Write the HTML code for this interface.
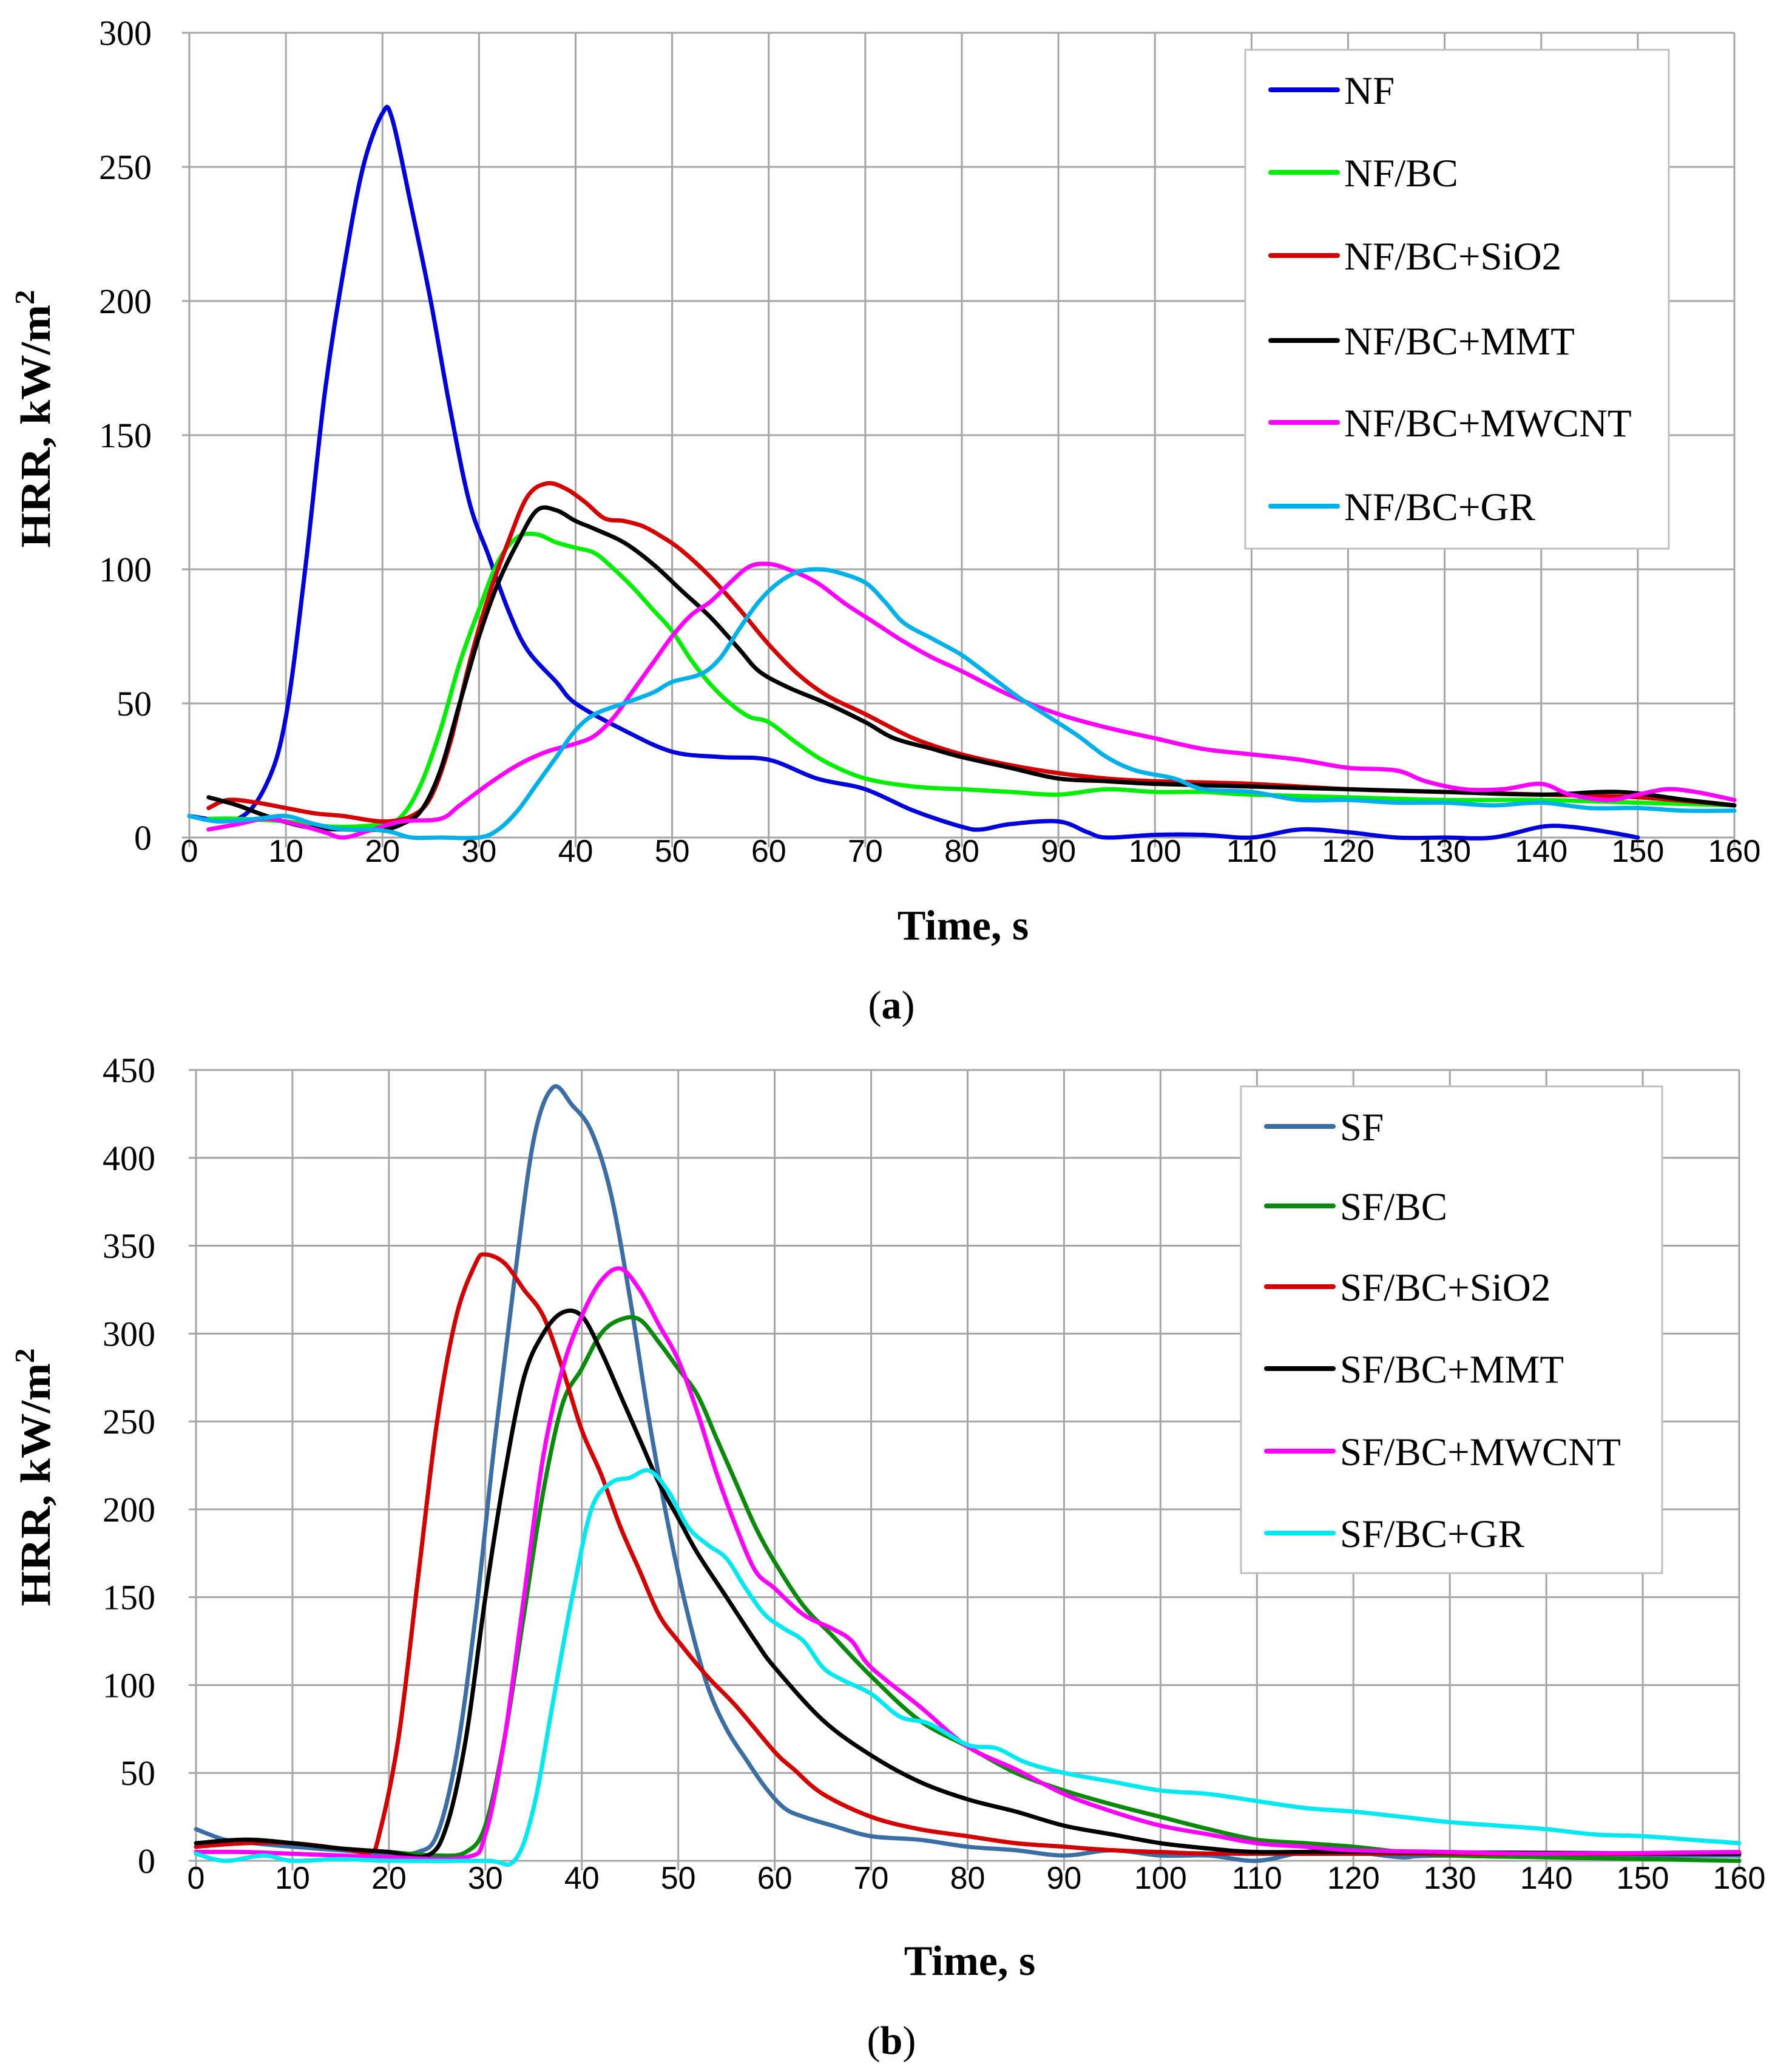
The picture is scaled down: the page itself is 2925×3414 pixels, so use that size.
<!DOCTYPE html>
<html><head><meta charset="utf-8"><style>
html,body{margin:0;padding:0;background:#fff}
svg{display:block}
</style></head><body>
<svg id="fig" xmlns="http://www.w3.org/2000/svg" width="2925" height="3414" viewBox="0 0 2925 3414">
<rect width="2925" height="3414" fill="#fff"/>
</svg>
<script>
// ---------- Chart (a) data ----------
const aNames = ["NF","NF/BC","NF/BC+SiO2","NF/BC+MMT","NF/BC+MWCNT","NF/BC+GR"];
const aColors = ["#0000dd","#00ee00","#d40000","#000000","#ff00ff","#00b0e8"];
const aNF_t = [0,5,8,10,12,14,16,18,20,21,23,25,27,29,31,33,35,38,40,45,50,55,60,65,70,75,80,82,85,90,93,95,100,105,110,115,120,125,130,135,140,143,147,150];
const aNF_v = [8,7,20,45,100,165,212,250,270,268,235,200,160,125,105,85,70,58,50,40,32,30,29,22,18,10,4,3,5,6,2,0,1,1,0,3,2,0,0,0,4,4,2,0];
const aBC_t = [2,5,10,15,20,22,24,26,28,30,32,34,36,38,40,42,44,46,48,50,52,54,56,58,60,63,66,70,75,80,85,90,95,100,105,110,120,130,140,150,160];
const aBC_v = [7,7,6,4,5,8,20,40,65,85,103,112,113,110,108,106,100,93,85,77,66,57,50,45,43,35,28,22,19,18,17,16,18,17,17,16,15,14,14,13,12];
const aSi_t = [2,4,7,10,13,16,20,23,25,27,29,31,33,35,37,39,41,43,45,47,49,51,54,57,60,63,66,70,75,80,85,90,95,100,110,120,130,140,150,160];
const aSi_v = [11,14,13,11,9,8,6,8,15,35,65,90,110,127,132,130,125,119,118,116,112,107,97,85,72,61,53,46,37,31,27,24,22,21,20,18,17,16,15,12];
const aMM_t = [2,5,8,12,16,20,22,24,26,28,30,32,34,36,38,40,42,45,48,51,54,57,59,62,66,70,73,77,80,85,90,95,100,110,120,130,140,148,155,160];
const aMM_v = [15,12,8,4,3,3,5,10,25,50,75,95,110,122,122,118,115,110,102,92,82,70,62,56,50,43,37,33,30,26,22,21,20,19,18,17,16,17,14,12];
const aMW_t = [2,5,8,11,14,16,19,22,26,28,31,34,37,40,42,44,46,48,50,52,54,56,58,60,62,65,68,71,74,77,80,85,90,95,100,105,110,115,120,125,128,132,136,140,143,147,150,153,156,160];
const aMW_v = [3,5,7,5,2,0,3,6,7,12,20,27,32,35,38,45,55,65,75,83,88,95,101,102,100,95,87,80,73,67,62,53,46,41,37,33,31,29,26,25,21,18,18,20,16,14,16,18,17,14];
const aGR_t = [0,3,7,10,13,16,19,21,23,26,30,32,34,36,38,40,42,45,48,50,53,55,57,59,61,63,65,67,70,72,74,77,80,83,86,89,92,95,98,102,105,110,115,120,125,130,135,140,145,150,155,160];
const aGR_v = [8,6,7,8,5,3,3,2,0,0,0,3,10,20,30,40,46,50,54,58,61,67,78,88,95,99,100,99,95,88,80,74,68,60,52,45,38,30,25,22,18,17,14,14,13,13,12,13,11,11,10,10];
const aYTicks = [0,50,100,150,200,250,300];
const aXTicks = [0,10,20,30,40,50,60,70,80,90,100,110,120,130,140,150,160];

// ---------- Chart (b) data ----------
const bNames = ["SF","SF/BC","SF/BC+SiO2","SF/BC+MMT","SF/BC+MWCNT","SF/BC+GR"];
const bColors = ["#3b6ea5","#0a8a0a","#d40000","#000000","#ff00ff","#00e8f0"];
const bSF_t = [0,3,6,10,15,20,23,25,27,29,31,33,35,37,39,41,43,45,47,49,51,53,55,57,59,61,63,66,70,75,80,85,90,95,100,105,110,115,120,125,130,160];
const bSF_v = [18,12,10,8,6,4,5,15,60,140,240,330,410,440,430,415,380,320,250,190,140,100,75,58,42,30,25,20,14,12,8,6,3,6,3,3,0,5,5,2,3,3];
const bBC_t = [0,5,10,15,20,25,28,30,32,34,36,38,40,42,44,46,48,50,52,54,56,58,60,63,66,70,75,80,85,90,95,100,105,110,115,120,125,130,140,150,160];
const bBC_v = [8,12,10,7,5,3,5,20,70,140,210,260,280,300,308,308,295,280,265,240,215,190,170,145,128,105,80,65,50,40,32,25,18,12,10,8,5,3,2,1,0];
const bSi_t = [0,5,10,15,18,19,21,23,25,27,29,30,32,34,36,38,40,42,44,46,48,50,53,56,60,62,65,70,75,80,85,90,95,100,110,160];
const bSi_v = [8,10,10,7,5,15,70,160,250,310,340,345,340,325,310,280,245,220,190,165,140,125,105,88,62,52,38,25,18,14,10,8,6,5,4,4];
const bMM_t = [0,5,10,15,20,24,26,28,30,32,34,36,38,40,42,44,46,48,50,52,55,58,60,65,70,75,80,85,90,95,100,105,110,120,160];
const bMM_v = [10,12,10,7,5,3,20,70,150,220,275,300,312,310,290,265,240,215,195,175,150,125,110,80,60,45,35,28,20,15,10,7,5,5,4];
const bMW_t = [0,5,10,15,20,28,30,32,34,36,38,40,42,44,46,48,50,52,54,56,58,60,63,66,68,70,75,80,85,90,95,100,105,110,115,120,130,140,160];
const bMW_v = [5,5,4,3,2,2,15,70,150,230,280,310,330,337,325,305,285,255,220,190,165,155,140,132,125,110,88,65,52,38,28,20,15,10,8,6,5,4,5];
const bGR_t = [0,3,7,10,15,20,30,33,35,37,39,41,43,45,47,49,51,53,55,57,59,61,63,65,67,70,73,76,80,83,86,90,95,100,105,110,115,120,125,130,135,140,145,150,155,160];
const bGR_v = [4,0,3,0,1,0,0,0,30,90,150,200,215,218,222,210,190,180,172,155,140,132,125,110,103,95,82,78,66,64,56,50,45,40,38,34,30,28,25,22,20,18,15,14,12,10];
const bYTicks = [0,50,100,150,200,250,300,350,400,450];
const bXTicks = [0,10,20,30,40,50,60,70,80,90,100,110,120,130,140,150,160];

const NS = "http://www.w3.org/2000/svg";
const svg = document.getElementById("fig");
function mk(tag, attrs, parent){
  const e = document.createElementNS(NS, tag);
  for (const k in attrs) e.setAttribute(k, attrs[k]);
  (parent||svg).appendChild(e);
  return e;
}
function smoothPath(pts){
  let d = "M" + pts[0][0].toFixed(1) + "," + pts[0][1].toFixed(1);
  for (let i = 0; i < pts.length - 1; i++){
    const p0 = pts[i-1] || pts[i], p1 = pts[i], p2 = pts[i+1], p3 = pts[i+2] || p2;
    const c1x = p1[0] + (p2[0]-p0[0])/6, c1y = p1[1] + (p2[1]-p0[1])/6;
    const c2x = p2[0] - (p3[0]-p1[0])/6, c2y = p2[1] - (p3[1]-p1[1])/6;
    d += " C" + c1x.toFixed(1) + "," + c1y.toFixed(1) + " " + c2x.toFixed(1) + "," + c2y.toFixed(1) + " " + p2[0].toFixed(1) + "," + p2[1].toFixed(1);
  }
  return d;
}

function drawChart(cfg){
  const g = mk("g", {});
  
  
  const xs = v => cfg.x0 + (v - 0) / 160 * (cfg.x1 - cfg.x0);
  const ys = v => cfg.yb - v / cfg.ymax * (cfg.yb - cfg.yt);
  cfg.yTicks.forEach(t => {
    const l = mk("line", {x1: cfg.x0 - 12, x2: cfg.x1, y1: ys(t), y2: ys(t), stroke: "#a6a6a6", "stroke-width": 3}, g);
    
    
    const tx = mk("text", {x: cfg.ylabX, y: ys(t) + 20, "text-anchor": "end", "font-family": "Liberation Serif, serif", "font-size": 58, fill: "#000"}, g);
    tx.textContent = t;
    
    
  });
  cfg.xTicks.forEach(t => {
    const l = mk("line", {x1: xs(t), x2: xs(t), y1: cfg.yt, y2: cfg.yb + 16, stroke: "#a6a6a6", "stroke-width": 3}, g);
    
    
    const tx = mk("text", {x: xs(t), y: cfg.xlabY, "text-anchor": "middle", "font-family": "Liberation Sans, sans-serif", "font-size": 52, fill: "#000"}, g);
    tx.textContent = t;
    
    
  });
  cfg.series.forEach((s, i) => {
    const pts = s.t.map((t, j) => [xs(t), ys(s.v[j])]);
    const p = mk("path", {d: smoothPath(pts), fill: "none", stroke: cfg.colors[i], "stroke-width": 7, "stroke-linejoin": "round", "stroke-linecap": "round"}, g);
    
    
  });
  const xt = mk("text", {x: cfg.xTitle[0], y: cfg.xTitle[1], "text-anchor": "middle", "font-family": "Liberation Serif, serif", "font-weight": "bold", "font-size": 70, fill: "#000"}, g);
  xt.textContent = "Time, s";
  
  
  const yt = mk("text", {x: 0, y: 0, "text-anchor": "middle", "font-family": "Liberation Serif, serif", "font-weight": "bold", "font-size": 70, fill: "#000", transform: "translate(" + cfg.yTitle[0] + "," + cfg.yTitle[1] + ") rotate(-90)", textLength: 425, lengthAdjust: "spacingAndGlyphs"}, g);
  yt.innerHTML = 'HRR, kW/m<tspan dy="-26" font-size="46">2</tspan>';
  
  
  const L = cfg.legend;
  const lg = mk("g", {}, g);
  
  
  const box = mk("rect", {x: L.x, y: L.y, width: L.w, height: L.h, fill: "#fff", stroke: "#bfbfbf", "stroke-width": 3}, lg);
  
  
  cfg.names.forEach((n, i) => {
    const yy = L.rows[i];
    const ln = mk("line", {x1: L.x + 42, x2: L.x + 152, y1: yy, y2: yy, stroke: cfg.colors[i], "stroke-width": 8, "stroke-linecap": "round"}, lg);
    
    
    const tx = mk("text", {x: L.x + 163, y: yy + 23, "font-family": "Liberation Serif, serif", "font-size": 65, fill: "#000"}, lg);
    tx.textContent = n;
    
    
  });
  const pl = mk("text", {x: cfg.panel[0], y: cfg.panel[1], "text-anchor": "middle", "font-family": "Liberation Serif, serif", "font-size": 66, fill: "#000"}, g);
  pl.innerHTML = '(<tspan font-weight="bold">' + cfg.panel[2] + '</tspan>)';
  
  
}

drawChart({
  id: "chart-a", x0: 312, x1: 2858, yt: 54, yb: 1380, ymax: 300,
  yTicks: aYTicks, xTicks: aXTicks, ylabX: 250, xlabY: 1420,
  names: aNames, colors: aColors,
  series: [{t:aNF_t,v:aNF_v},{t:aBC_t,v:aBC_v},{t:aSi_t,v:aSi_v},{t:aMM_t,v:aMM_v},{t:aMW_t,v:aMW_v},{t:aGR_t,v:aGR_v}],
  xTitle: [1587, 1548], yTitle: [82, 690],
  legend: {x: 2052, y: 82, w: 698, h: 822, rows: [148, 284, 421, 561, 696, 834]},
  panel: [1469, 1678, "a"]
});
drawChart({
  id: "chart-b", x0: 323, x1: 2866, yt: 1763, yb: 3066, ymax: 450,
  yTicks: bYTicks, xTicks: bXTicks, ylabX: 256, xlabY: 3112,
  names: bNames, colors: bColors,
  series: [{t:bSF_t,v:bSF_v},{t:bBC_t,v:bBC_v},{t:bSi_t,v:bSi_v},{t:bMM_t,v:bMM_v},{t:bMW_t,v:bMW_v},{t:bGR_t,v:bGR_v}],
  xTitle: [1598, 3254], yTitle: [82, 2434],
  legend: {x: 2045, y: 1790, w: 694, h: 802, rows: [1856, 1987, 2120, 2255, 2391, 2526]},
  panel: [1469, 3384, "b"]
});
</script>
</body></html>
